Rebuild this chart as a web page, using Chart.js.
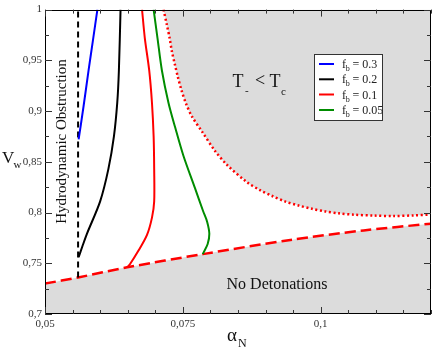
<!DOCTYPE html>
<html>
<head>
<meta charset="utf-8">
<script src="https://cdn.jsdelivr.net/npm/chart.js@4.4.1/dist/chart.umd.min.js"></script>
<style>
  html, body { margin: 0; padding: 0; background: #fff; }
  canvas { display: block; }
</style>
</head>
<body>
<canvas id="myChart" width="432" height="348"></canvas>
<script>
// tick labels
const xTicks = [0.05, 0.075, 0.1];
const yTicks = [0.7, 0.75, 0.8, 0.85, 0.9, 0.95, 1];

// f_b curves: alpha_N vs v_w
const fb03Alpha = [0.0561, 0.0570, 0.0579, 0.0587, 0.0595];
const fb03Vw    = [0.872, 0.905, 0.940, 0.970, 1.0];

const fb02Alpha = [0.0561, 0.0568, 0.0576, 0.0600, 0.0615, 0.0625, 0.0631, 0.0634, 0.0637];
const fb02Vw    = [0.756, 0.767, 0.779, 0.811, 0.843, 0.875, 0.908, 0.940, 1.0];

const fb01Alpha = [0.0649, 0.0654, 0.0669, 0.0685, 0.0694, 0.0698, 0.0698, 0.0697, 0.0694, 0.0689, 0.0681, 0.0676];
const fb01Vw    = [0.746, 0.749, 0.762, 0.778, 0.795, 0.811, 0.843, 0.875, 0.908, 0.940, 0.972, 1.0];

const fb005Alpha = [0.0786, 0.0795, 0.0798, 0.0794, 0.0787, 0.0772, 0.0751, 0.0736, 0.0724, 0.0712, 0.0704, 0.0697];
const fb005Vw    = [0.759, 0.769, 0.779, 0.791, 0.801, 0.824, 0.856, 0.884, 0.908, 0.940, 0.972, 1.0];

// boundaries
const noDetAlpha = [0.05, 0.056, 0.0649, 0.0786, 0.0945, 0.1078, 0.12];
const noDetVw    = [0.730, 0.736, 0.746, 0.759, 0.773, 0.7824, 0.789];

const tcAlpha = [0.0715, 0.0721, 0.0726, 0.0730, 0.07355, 0.0741, 0.07475, 0.07555, 0.07663, 0.07845, 0.0808, 0.0830, 0.0866, 0.0890, 0.0912, 0.0936, 0.0960, 0.0984, 0.1008, 0.1033, 0.1060, 0.1096, 0.1132, 0.1169, 0.12];
const tcVw    = [1.0, 0.985, 0.972, 0.959, 0.946, 0.9335, 0.9205, 0.9077, 0.8948, 0.880, 0.861, 0.847, 0.830, 0.822, 0.8163, 0.8108, 0.8069, 0.8037, 0.8011, 0.7992, 0.7979, 0.797, 0.7965, 0.7972, 0.798];

const hydroAlpha = [0.056, 0.056];
const hydroVw    = [0.736, 1.0];

const legendLabels = ['0.3', '0.2', '0.1', '0.05'];
const legendColors = ['#0000ff', '#000000', '#ff0000', '#008c00'];

const pts = (xs, ys) => xs.map((x, i) => ({x: x, y: ys[i]}));
const comma = v => String(Number(v.toFixed(3))).replace('.', ',');
const SERIF = '"Liberation Serif", "DejaVu Serif", serif';
const GRAY = 'rgb(220,220,220)';

function curve(label, xs, ys, color, order) {
  return {
    label: label, data: pts(xs, ys), showLine: true, pointRadius: 0,
    borderColor: color, borderWidth: 2, tension: 0.3, fill: false, order: order
  };
}

// frame, inward ticks, text and legend
const decor = {
  id: 'decor',
  afterDraw(chart) {
    const ctx = chart.ctx;
    const a = chart.chartArea;
    const xs = chart.scales.x, ys = chart.scales.y;
    ctx.save();
    ctx.strokeStyle = '#000';
    ctx.lineWidth = 1;
    ctx.strokeRect(Math.round(a.left) + 0.5, Math.round(a.top) + 0.5,
                   Math.round(a.right - a.left) - 1, Math.round(a.bottom - a.top) - 1);

    ctx.strokeStyle = '#333';
    ctx.beginPath();
    for (let i = 0; i <= 14; i++) {
      const v = 0.05 + i * 0.005;
      const px = Math.round(xs.getPixelForValue(v)) + 0.5;
      const len = (i % 5 === 0) ? 7 : 4;
      ctx.moveTo(px, a.bottom); ctx.lineTo(px, a.bottom - len);
      ctx.moveTo(px, a.top); ctx.lineTo(px, a.top + len);
    }
    for (let i = 0; i <= 12; i++) {
      const v = 0.7 + i * 0.025;
      const py = Math.round(ys.getPixelForValue(v)) + 0.5;
      const len = (i % 2 === 0) ? 7 : 4;
      ctx.moveTo(a.left, py); ctx.lineTo(a.left + len, py);
      ctx.moveTo(a.right, py); ctx.lineTo(a.right - len, py);
    }
    ctx.stroke();

    ctx.fillStyle = '#111';
    ctx.textAlign = 'left';
    ctx.textBaseline = 'alphabetic';
    // axis titles
    ctx.font = '17px ' + SERIF;
    ctx.fillText('V', 2, 163);
    ctx.font = '11px ' + SERIF;
    ctx.fillText('w', 13.5, 168);
    ctx.font = '19px ' + SERIF;
    ctx.fillText('\u03b1', 227, 341);
    ctx.font = '12px ' + SERIF;
    ctx.fillText('N', 238, 347);

    // region labels
    ctx.font = '16px ' + SERIF;
    ctx.textAlign = 'center';
    ctx.fillText('No Detonations', 277, 289);
    ctx.save();
    ctx.translate(66, 141.5);
    ctx.rotate(-Math.PI / 2);
    ctx.font = '15px ' + SERIF;
    ctx.fillText('Hydrodynamic Obstruction', 0, 0);
    ctx.restore();

    ctx.textAlign = 'left';
    ctx.font = '18px ' + SERIF;
    ctx.fillText('T', 232.5, 87);
    ctx.fillText('<', 255, 86);
    ctx.fillText('T', 269.5, 87);
    ctx.font = '11px ' + SERIF;
    ctx.fillText('-', 245, 94);
    ctx.fillText('c', 281, 95);

    // legend
    ctx.fillStyle = '#fff';
    ctx.fillRect(314.5, 54.5, 68, 66);
    ctx.strokeStyle = '#333';
    ctx.lineWidth = 1;
    ctx.strokeRect(314.5, 54.5, 68, 66);
    const rows = [64, 79.3, 94.5, 110];
    legendLabels.forEach((lab, i) => {
      const y = rows[i];
      ctx.strokeStyle = legendColors[i];
      ctx.lineWidth = 2;
      ctx.beginPath();
      ctx.moveTo(319, y); ctx.lineTo(334, y);
      ctx.stroke();
      ctx.fillStyle = '#222';
      ctx.font = '12px ' + SERIF;
      ctx.fillText('f', 342, y + 4);
      ctx.font = '8px ' + SERIF;
      ctx.fillText('b', 345.8, y + 7);
      ctx.font = '12px ' + SERIF;
      ctx.fillText('= ' + lab, 352.5, y + 4);
    });
    ctx.restore();
  }
};

document.addEventListener('DOMContentLoaded', function () {
  new Chart(document.getElementById('myChart').getContext('2d'), {
    type: 'scatter',
    data: {
      datasets: [
        curve('f_b = 0.3', fb03Alpha, fb03Vw, legendColors[0], 1),
        curve('f_b = 0.2', fb02Alpha, fb02Vw, legendColors[1], 1),
        curve('f_b = 0.1', fb01Alpha, fb01Vw, legendColors[2], 1),
        curve('f_b = 0.05', fb005Alpha, fb005Vw, legendColors[3], 1),
        {
          label: 'hydro', data: pts(hydroAlpha, hydroVw), showLine: true, pointRadius: 0,
          borderColor: '#000', borderWidth: 2, borderDash: [6, 4], fill: false, order: 2
        },
        {
          label: 'no detonations', data: pts(noDetAlpha, noDetVw), showLine: true, pointRadius: 0,
          borderColor: '#ff0000', borderWidth: 2.5, borderDash: [11, 5], tension: 0.3,
          fill: 'start', backgroundColor: GRAY, order: 5
        },
        {
          label: 'T- < Tc', data: pts(tcAlpha, tcVw), showLine: true, pointRadius: 0,
          borderColor: '#ff0000', borderWidth: 2.5, borderDash: [2, 2.6], tension: 0.3,
          fill: 'end', backgroundColor: GRAY, order: 6
        }
      ]
    },
    options: {
      responsive: false,
      animation: false,
      layout: { padding: { top: 4.5, right: 1, left: 0, bottom: 0 } },
      plugins: { legend: { display: false }, tooltip: { enabled: false } },
      scales: {
        x: {
          type: 'linear', min: 0.05, max: 0.12,
          grid: { display: false, drawTicks: false },
          border: { display: false },
          afterBuildTicks: s => { s.ticks = xTicks.map(v => ({ value: v })); },
          afterFit: s => { s.height = 34; },
          ticks: {
            padding: 4, maxRotation: 0, autoSkip: false,
            color: '#333', font: { family: SERIF, size: 11 },
            callback: v => comma(v)
          }
        },
        y: {
          type: 'linear', min: 0.7, max: 1,
          grid: { display: false, drawTicks: false },
          border: { display: false },
          afterBuildTicks: s => { s.ticks = yTicks.map(v => ({ value: v })); },
          afterFit: s => { s.width = 45; },
          ticks: {
            padding: 3, autoSkip: false,
            color: '#333', font: { family: SERIF, size: 11 },
            callback: v => comma(v)
          }
        }
      }
    },
    plugins: [decor]
  });
});
</script>
</body>
</html>
